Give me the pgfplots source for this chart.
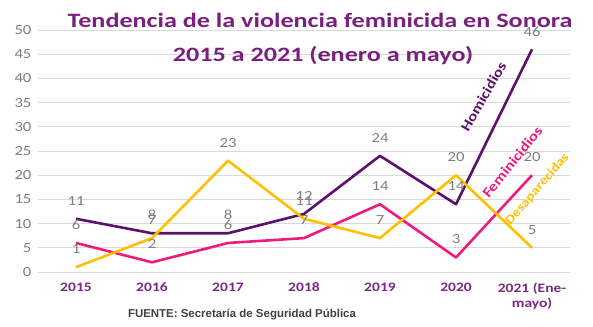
\documentclass[border=0pt]{standalone}
\usepackage{fontspec}
\setmainfont{Carlito}[FakeStretch=1.2]
\newfontfamily\titlefont{Carlito}[FakeStretch=1.28]
\newfontfamily\arialfont{Liberation Sans}
\usepackage{pgfplots}
\pgfplotsset{compat=1.18}
\definecolor{hom}{HTML}{5C0F6B}
\definecolor{fem}{HTML}{F0197D}
\definecolor{des}{HTML}{FFC000}
\definecolor{titlec}{HTML}{7A1F7F}
\definecolor{ticklab}{HTML}{7A2A85}
\definecolor{graytext}{HTML}{7F7F7F}
\definecolor{gridc}{HTML}{D9D9D9}
\definecolor{srcc}{HTML}{404040}
\begin{document}
\begin{tikzpicture}
\path[use as bounding box] (0bp,0bp) rectangle (593bp,327bp);
\begin{axis}[
  at={(38bp,55bp)}, anchor=south west,
  scale only axis, width=532bp, height=242bp,
  xmin=-0.5, xmax=6.5, ymin=0, ymax=50,
  ytick={0,5,...,50},
  xtick={0,1,2,3,4,5,6},
  xticklabels={2015,2016,2017,2018,2019,2020,{2021 (Ene-\\mayo)}},
  xticklabel style={align=center, font=\bfseries\fontsize{13}{15}\selectfont, text=ticklab, yshift=-7bp},
  yticklabel style={font=\fontsize{14}{16}\selectfont, text=graytext, xshift=-3bp},
  axis line style={draw=none},
  major tick length=0pt,
  tick style={draw=none},
  ymajorgrids, grid style={gridc, line width=1pt},
  /pgf/number format/assume math mode=true,
  clip=false,
  nodes near coords,
  every node near coord/.append style={font=\fontsize{14}{16}\selectfont, text=graytext, anchor=center, yshift=18bp},
  every axis plot/.append style={line width=2.6pt, line join=round, mark=none},
]
\addplot[hom] coordinates {(0,11) (1,8) (2,8) (3,12) (4,24) (5,14) (6,46)};
\addplot[fem] coordinates {(0,6) (1,2) (2,6) (3,7) (4,14) (5,3) (6,20)};
\addplot[des] coordinates {(0,1) (1,7) (2,23) (3,11) (4,7) (5,20) (6,5)};
\node[rotate=60, font=\bfseries\fontsize{14}{16}\selectfont, text=hom] at (axis cs:5.36,36.2) {Homicidios};
\node[rotate=51, font=\bfseries\fontsize{14}{16}\selectfont, text=fem] at (axis cs:5.74,22.7) {Feminicidios};
\node[rotate=49, font=\bfseries\fontsize{12.5}{14}\selectfont, text=des] at (axis cs:6.07,17.1) {Desaparecidas};
\end{axis}
\node[anchor=base, font=\titlefont\bfseries\fontsize{20.5}{24}\selectfont, text=titlec] at (320bp,299bp) {Tendencia de la violencia feminicida en Sonora};
\node[anchor=base, font=\titlefont\bfseries\fontsize{20.5}{24}\selectfont, text=titlec] at (323bp,265bp) {2015 a 2021 (enero a mayo)};
\node[anchor=base, font=\arialfont\bfseries\fontsize{11.5}{13}\selectfont, text=srcc] at (242bp,9.5bp) {FUENTE: Secretaría de Seguridad Pública};
\end{tikzpicture}
\end{document}
